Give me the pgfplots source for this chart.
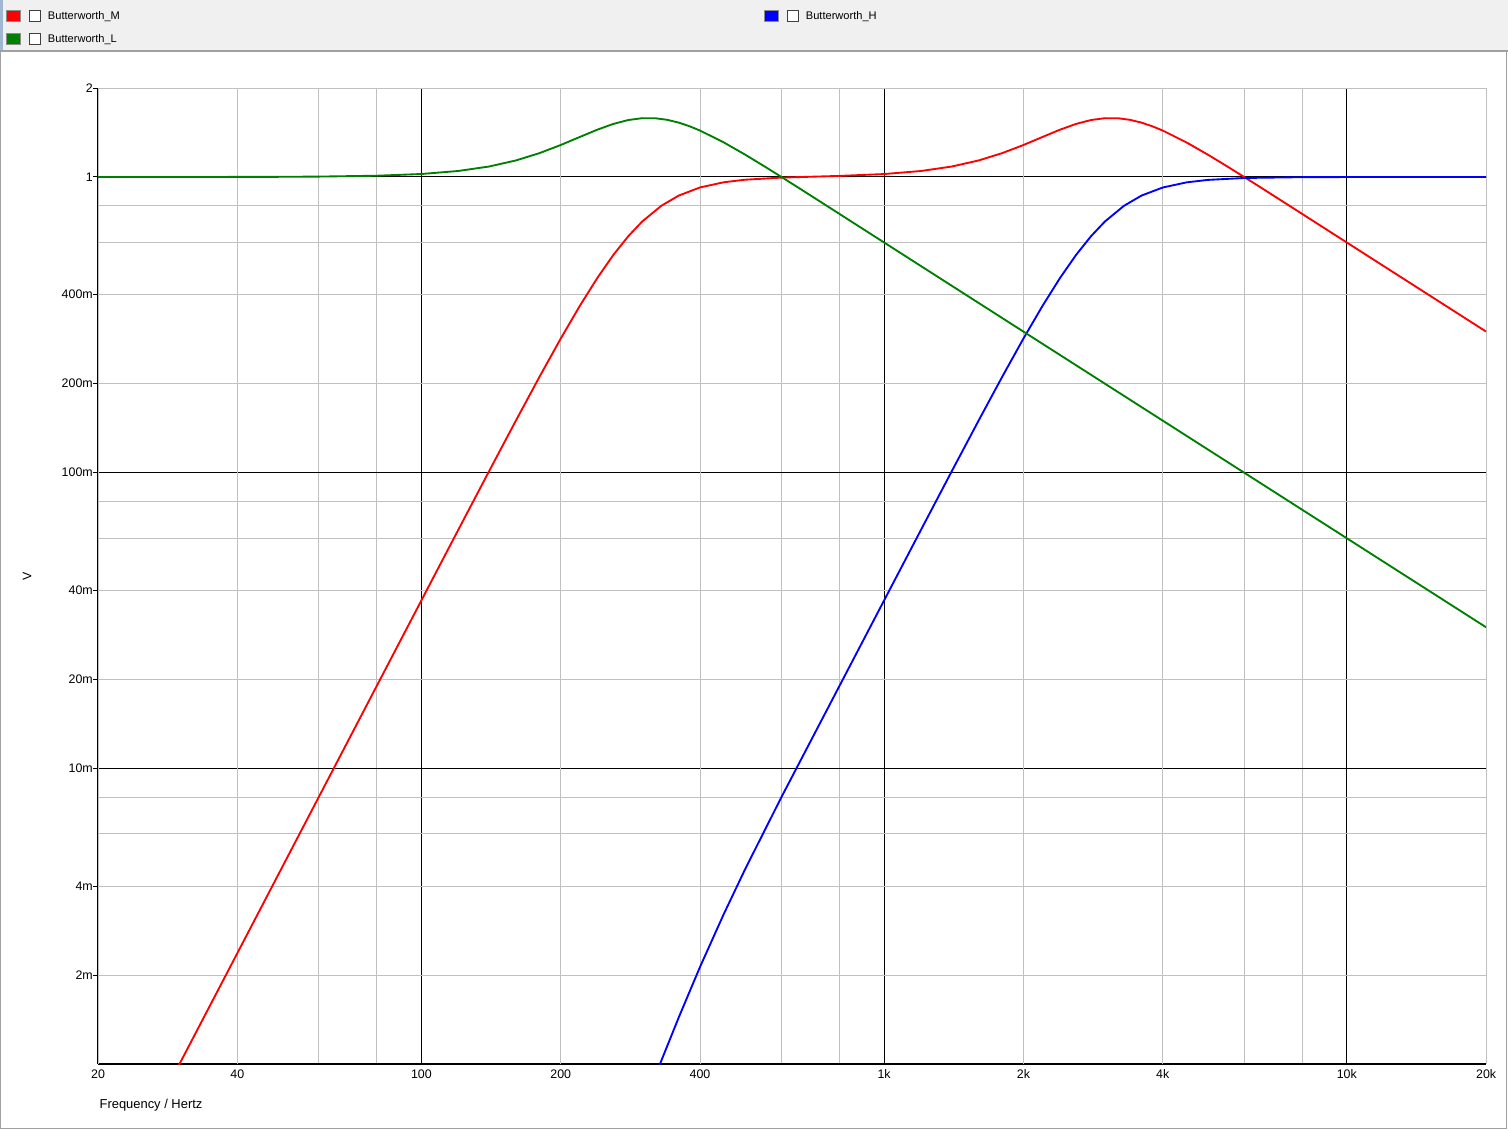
\documentclass[border=0pt]{standalone}
\usepackage{fontspec}
\setmainfont{Liberation Sans}
\usepackage{pgfplots}
\pgfplotsset{compat=1.18}

\definecolor{gridgray}{HTML}{C0C0C0}
\definecolor{barbg}{HTML}{F0F0F0}
\definecolor{panelframe}{HTML}{A0A0A0}
\definecolor{stripcol}{HTML}{9FB7D1}
\definecolor{lgreen}{HTML}{008000}
\definecolor{legbord}{HTML}{8C8C8C}

\begin{document}
\begin{tikzpicture}
% window background: legend bar on top, white plot panel below (1px = 0.75pt)
\fill[barbg] (0,0) rectangle (1131pt,-38.25pt);
\fill[stripcol] (0,0) rectangle (2.25pt,-38.25pt);
\fill[white] (0,-38.25pt) rectangle (1131pt,-847.5pt);
\draw[panelframe, line width=1.5pt] (0,-38.6pt) -- (1131pt,-38.6pt);
\draw[panelframe, line width=0.75pt] (0.375pt,-39pt) rectangle (1130.2pt,-846.6pt);

\begin{axis}[
  at={(73.5pt,-798pt)}, anchor=south west,
  scale only axis, width=1041pt, height=732pt,
  xmode=log, ymode=log,
  xmin=20, xmax=20000, ymin=0.001, ymax=2,
  axis x line=bottom, axis y line=left,
  x axis line style={-, line width=1.2pt},
  y axis line style={-, line width=2pt},
  xtick={100,1000,10000}, xticklabels={100,1k,10k},
  extra x ticks={20,40,200,400,2000,4000,20000},
  extra x tick labels={20,40,200,400,2k,4k,20k},
  ytick={0.01,0.1,1}, yticklabels={10m,100m,1},
  extra y ticks={0.002,0.004,0.02,0.04,0.2,0.4,2},
  extra y tick labels={2m,4m,20m,40m,200m,400m,2},
  minor xtick={60,80,600,800,6000,8000},
  minor ytick={0.006,0.008,0.06,0.08,0.6,0.8},
  grid=both,
  major grid style={black, line width=0.75pt},
  minor grid style={gridgray, line width=0.75pt},
  extra x tick style={grid=major, major grid style={gridgray, line width=0.75pt}},
  extra y tick style={grid=major, major grid style={gridgray, line width=0.75pt}},
  tick align=outside, major tick length=3.75pt, minor tick length=0pt,
  xtick style={draw=none},
  ytick style={black, line width=0.75pt},
  tick label style={font=\fontsize{9.3}{11}\selectfont},
  xticklabel style={inner sep=0pt, text height=6.9pt, text depth=0pt},
  yticklabel style={inner sep=0pt},
  xlabel={Frequency / Hertz},
  xlabel style={at={(rel axis cs:0,0)}, anchor=west, inner sep=0pt,
                xshift=1pt, yshift=-30.75pt, font=\fontsize{9.7}{11}\selectfont},
  ylabel={V},
  ylabel style={at={(rel axis cs:0,0.5)}, anchor=center, inner sep=0pt,
                yshift=53.25pt, font=\fontsize{9.3}{11}\selectfont},
  legend columns=2,
  legend cell align=left,
  legend image code/.code={
    \draw[draw=legbord, fill, line width=0.75pt] (0.375pt,-4.125pt) rectangle (10.875pt,4.125pt);
    \draw[draw=black!75, fill=white, line width=0.75pt] (17.625pt,-4.125pt) rectangle (25.875pt,4.125pt);
  },
  legend style={at={(-0.06628,1.07992)}, anchor=north west,
    draw=none, fill=none, inner sep=0pt, outer sep=0pt,
    font=\fontsize{8.3}{10}\selectfont,
    nodes={inner sep=0pt},
    row sep=8.25pt,
    /tikz/every odd column/.append style={column sep=5.25pt},
    /tikz/every even column/.append style={column sep=483pt}},
]

% Butterworth_M : band pass
\addplot[red, line width=1.4pt] coordinates {
  (20,0.000296) (30,0.0010) (40,0.00237) (50,0.00463) (60,0.0080)
  (80,0.01896) (100,0.03701) (120,0.06387) (140,0.10111) (160,0.14998)
  (180,0.21113) (200,0.28409) (220,0.36687) (240,0.45574) (260,0.54559)
  (280,0.63085) (300,0.70711) (330,0.79949) (360,0.86552) (400,0.9219)
  (450,0.9598) (500,0.9789) (600,0.9955) (800,1.0085) (1000,1.0233)
  (1200,1.0477) (1400,1.0850) (1600,1.1375) (1800,1.2045) (2000,1.2828)
  (2200,1.3662) (2400,1.4458) (2600,1.5124) (2800,1.5587) (3000,1.5811)
  (3200,1.5806) (3400,1.5609) (3600,1.5270) (3800,1.4840) (4000,1.4357)
  (4500,1.3096) (5000,1.1918) (5500,1.0887) (6000,1.0000) (6500,0.9239)
  (7000,0.8581) (8000,0.7508) (9000,0.6672) (10000,0.6004) (12000,0.5002)
  (20000,0.3000)
};
\addlegendentry{Butterworth\_M}

% Butterworth_H : high pass
\addplot[blue, line width=1.4pt] coordinates {
  (300,0.000701) (324,0.000956) (360,0.00144) (400,0.00213) (450,0.00321)
  (500,0.00454) (600,0.0080) (700,0.0127) (800,0.01896) (1000,0.03701)
  (1200,0.06387) (1400,0.10111) (1600,0.14998) (1800,0.21113) (2000,0.28409)
  (2200,0.36687) (2400,0.45574) (2600,0.54559) (2800,0.63085) (3000,0.70711)
  (3300,0.79949) (3600,0.86552) (4000,0.92136) (4500,0.95880) (5000,0.97746)
  (6000,0.99228) (8000,0.99861) (10000,0.99964) (20000,1.0000)
};
\addlegendentry{Butterworth\_H}

% Butterworth_L : low pass
\addplot[lgreen, line width=1.4pt] coordinates {
  (20,1.0000) (30,1.0002) (40,1.0006) (50,1.0015) (60,1.0032) (80,1.0099)
  (100,1.0237) (120,1.0478) (140,1.0851) (160,1.1375) (180,1.2045)
  (200,1.2828) (220,1.3662) (240,1.4458) (260,1.5124) (280,1.5587)
  (300,1.5811) (320,1.5806) (340,1.5609) (360,1.5270) (380,1.4840)
  (400,1.4357) (450,1.3096) (500,1.1918) (550,1.0887) (600,1.0000)
  (650,0.9239) (700,0.8581) (800,0.7508) (900,0.6672) (1000,0.6004)
  (1200,0.5002) (2000,0.3000) (20000,0.0300)
};
\addlegendentry{Butterworth\_L}

\end{axis}
\pgfresetboundingbox
\path[use as bounding box] (0,0) rectangle (1131pt,-847.5pt);
\end{tikzpicture}
\end{document}
